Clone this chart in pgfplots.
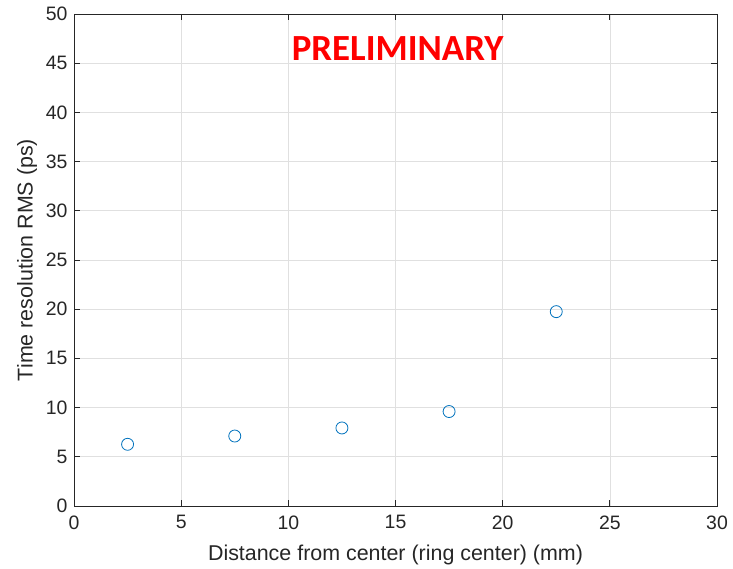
\documentclass[border=0pt]{standalone}
\usepackage{pgfplots}
\pgfplotsset{compat=1.18}
\usepackage{fontspec}
\setmainfont{Liberation Sans}
\newfontfamily\calibri{Carlito}
\definecolor{mblue}{RGB}{0,114,189}
\definecolor{axgray}{RGB}{38,38,38}
\begin{document}
\begin{tikzpicture}[x=1bp,y=1bp]
\path (0,0) rectangle (733,568);
\begin{axis}[
  at={(74bp,62bp)}, anchor=south west,
  width=643bp, height=492bp, scale only axis,
  xmin=0, xmax=30, ymin=0, ymax=50,
  xtick={0,5,...,30}, ytick={0,5,...,50},
  grid=major,
  major grid style={draw=black!12, line width=0.6pt},
  axis line style={draw=axgray, line width=0.8pt},
  tick style={draw=axgray, line width=0.8pt},
  tick align=inside, major tick length=6bp,
  xtick pos=both, ytick pos=both,
  /pgf/number format/assume math mode=true,
  tick label style={font=\fontsize{19.5}{22}\selectfont, text=axgray},
  xticklabel style={yshift=-6bp},
  yticklabel style={xshift=-3bp},
  xlabel={Distance from center (ring center) (mm)},
  ylabel={Time resolution RMS (ps)},
  label style={font=\fontsize{21.5}{24}\selectfont, text=axgray},
  xlabel style={yshift=-9bp},
  ylabel style={yshift=2bp},
]
\addplot[only marks, mark=o, mark size=6bp, mark options={draw=mblue, line width=0.8pt}]
coordinates {(2.5,6.27) (7.5,7.11) (12.5,7.93) (17.5,9.6) (22.5,19.75)};
\node[font=\calibri\bfseries\fontsize{37}{40}\selectfont, text=red] at (axis cs:15.1,46.5) {PRELIMINARY};
\end{axis}
\end{tikzpicture}
\end{document}
